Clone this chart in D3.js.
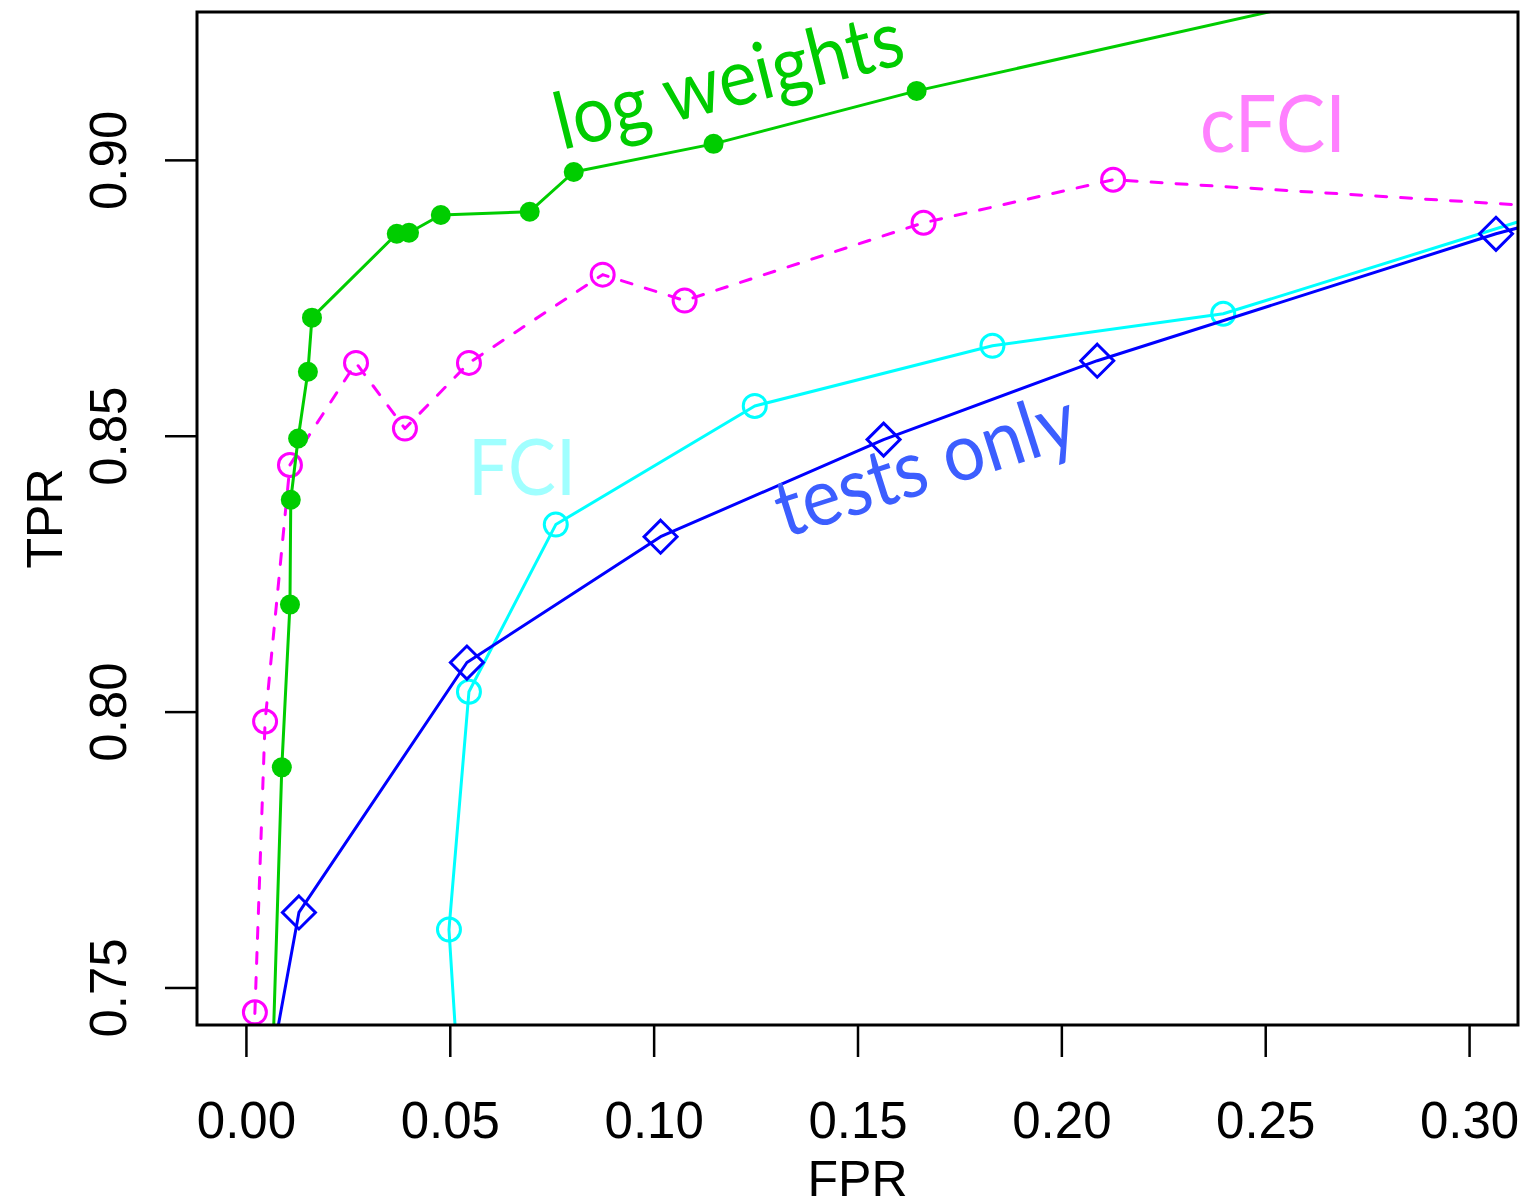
<!DOCTYPE html>
<html>
<head>
<meta charset="utf-8">
<script src="https://cdn.jsdelivr.net/npm/d3@7"></script>
<style>
  html, body { margin: 0; padding: 0; background: #fff; }
  svg { display: block; }
</style>
</head>
<body>
<svg id="chart" width="1526" height="1204"></svg>
<script>
// ROC curves: false positive rate vs. true positive rate
const xTicks = [0.00, 0.05, 0.10, 0.15, 0.20, 0.25, 0.30];
const yTicks = [0.75, 0.80, 0.85, 0.90];
const xTickLabels = ["0.00", "0.05", "0.10", "0.15", "0.20", "0.25", "0.30"];
const yTickLabels = ["0.75", "0.80", "0.85", "0.90"];

// log weights (filled dots)
const logFPR = [0.005, 0.0088, 0.0108, 0.0110, 0.0128, 0.0152, 0.0162, 0.0370, 0.0400, 0.0478, 0.0696, 0.0804, 0.1147, 0.1645, 0.40];
const logTPR = [0.700, 0.7899, 0.8194, 0.8384, 0.8495, 0.8616, 0.8714, 0.8866, 0.8868, 0.8900, 0.8906, 0.8978, 0.9029, 0.9125, 0.9515];

// cFCI (dashed, open circles)
const cfciFPR = [0.000, 0.0022, 0.0047, 0.0108, 0.0270, 0.0390, 0.0547, 0.0875, 0.1076, 0.1662, 0.2127, 0.35];
const cfciTPR = [0.700, 0.7455, 0.7982, 0.8447, 0.8632, 0.8513, 0.8632, 0.8792, 0.8745, 0.8886, 0.8964, 0.8901];

// FCI (open circles)
const fciFPR = [0.055, 0.0498, 0.0547, 0.0760, 0.1248, 0.1831, 0.2397, 0.35];
const fciTPR = [0.700, 0.7605, 0.8036, 0.8339, 0.8554, 0.8663, 0.8721, 0.8975];

// tests only (open diamonds)
const testFPR = [0.001, 0.0130, 0.0542, 0.1017, 0.1564, 0.2088, 0.3066, 0.35];
const testTPR = [0.715, 0.7636, 0.8089, 0.8317, 0.8493, 0.8636, 0.8866, 0.8953];

const svg = d3.select("#chart");
const box = { left: 197, right: 1518, top: 12, bottom: 1025 };

const x = d3.scaleLinear().domain([-0.012, 0.312]).range([box.left, box.right]);
const y = d3.scaleLinear().domain([0.7432, 0.9268]).range([box.bottom, box.top]);

const tickFont = "'Liberation Sans', Arial, Helvetica, sans-serif";
const labelFont = "Lato, 'Open Sans', sans-serif";

svg.append("defs").append("clipPath").attr("id", "plotClip")
  .append("rect")
  .attr("x", box.left).attr("y", box.top)
  .attr("width", box.right - box.left).attr("height", box.bottom - box.top);

// axes
const xAxis = svg.append("g")
  .attr("transform", `translate(0,${box.bottom})`)
  .call(d3.axisBottom(x).tickValues(xTicks).tickSize(32).tickPadding(45)
        .tickFormat((d, i) => xTickLabels[i]));
xAxis.select(".domain").remove();
xAxis.selectAll(".tick line").attr("stroke", "#000").attr("stroke-width", 2.5);
xAxis.selectAll(".tick text").attr("font-family", tickFont).attr("font-size", 51).attr("fill", "#000");

const yAxis = svg.append("g")
  .attr("transform", `translate(${box.left},0)`)
  .call(d3.axisLeft(y).tickValues(yTicks).tickSize(32)
        .tickFormat((d, i) => yTickLabels[i]));
yAxis.select(".domain").remove();
yAxis.selectAll(".tick line").attr("stroke", "#000").attr("stroke-width", 2.5);
yAxis.selectAll(".tick text")
  .attr("font-family", tickFont).attr("font-size", 51).attr("fill", "#000")
  .attr("x", null).attr("dy", null).attr("y", null)
  .attr("text-anchor", "middle")
  .attr("transform", "translate(-71,0) rotate(-90)");

// axis titles
svg.append("text")
  .attr("x", (box.left + box.right) / 2).attr("y", 1196)
  .attr("text-anchor", "middle")
  .attr("font-family", tickFont).attr("font-size", 50)
  .text("FPR");
svg.append("text")
  .attr("transform", `translate(62,${(box.top + box.bottom) / 2}) rotate(-90)`)
  .attr("text-anchor", "middle")
  .attr("font-family", tickFont).attr("font-size", 50)
  .text("TPR");

// series
const plot = svg.append("g").attr("clip-path", "url(#plotClip)");
const line = d3.line().x(d => x(d[0])).y(d => y(d[1]));
const zip = (a, b) => a.map((v, i) => [v, b[i]]);

const series = [
  { pts: zip(fciFPR, fciTPR), color: "#00FFFF", dash: null, marker: "circle" },
  { pts: zip(testFPR, testTPR), color: "#0000FF", dash: null, marker: "diamond" },
  { pts: zip(cfciFPR, cfciTPR), color: "#FF00FF", dash: "11,14", marker: "circle" },
  { pts: zip(logFPR, logTPR), color: "#00CD00", dash: null, marker: "dot" }
];

series.forEach(s => {
  plot.append("path")
    .datum(s.pts)
    .attr("d", line)
    .attr("fill", "none")
    .attr("stroke", s.color)
    .attr("stroke-width", 3)
    .attr("stroke-linejoin", "round")
    .attr("stroke-linecap", "round")
    .attr("stroke-dasharray", s.dash);

  const g = plot.append("g");
  if (s.marker === "dot") {
    g.selectAll("circle").data(s.pts).join("circle")
      .attr("cx", d => x(d[0])).attr("cy", d => y(d[1])).attr("r", 10)
      .attr("fill", s.color);
  } else if (s.marker === "circle") {
    g.selectAll("circle").data(s.pts).join("circle")
      .attr("cx", d => x(d[0])).attr("cy", d => y(d[1])).attr("r", 11.5)
      .attr("fill", "none").attr("stroke", s.color).attr("stroke-width", 3);
  } else {
    const h = 16.5;
    g.selectAll("path").data(s.pts).join("path")
      .attr("d", d => {
        const cx = x(d[0]), cy = y(d[1]);
        return `M${cx},${cy - h}L${cx + h},${cy}L${cx},${cy + h}L${cx - h},${cy}Z`;
      })
      .attr("fill", "none").attr("stroke", s.color).attr("stroke-width", 3)
      .attr("stroke-linejoin", "miter");
  }
});

// frame
svg.append("rect")
  .attr("x", box.left).attr("y", box.top)
  .attr("width", box.right - box.left).attr("height", box.bottom - box.top)
  .attr("fill", "none").attr("stroke", "#000").attr("stroke-width", 3);

// series labels
const labels = [
  { text: "log weights", x: 562, y: 150, angle: -14.1, size: 79, len: 357, color: "#00CC00" },
  { text: "cFCI", x: 1200, y: 152, angle: 0, size: 80, len: 146, color: "#FF80FF" },
  { text: "FCI", x: 468, y: 495, angle: 0, size: 77, len: 108, color: "#A0FFFF" },
  { text: "tests only", x: 785, y: 538, angle: -17.7, size: 80, len: 312, color: "#3C5EFF" }
];
svg.selectAll("text.series-label").data(labels).join("text")
  .attr("class", "series-label")
  .attr("transform", d => `translate(${d.x},${d.y}) rotate(${d.angle})`)
  .attr("font-family", labelFont)
  .attr("font-size", d => d.size)
  .attr("textLength", d => d.len)
  .attr("lengthAdjust", "spacingAndGlyphs")
  .attr("fill", d => d.color)
  .text(d => d.text);
</script>
</body>
</html>
